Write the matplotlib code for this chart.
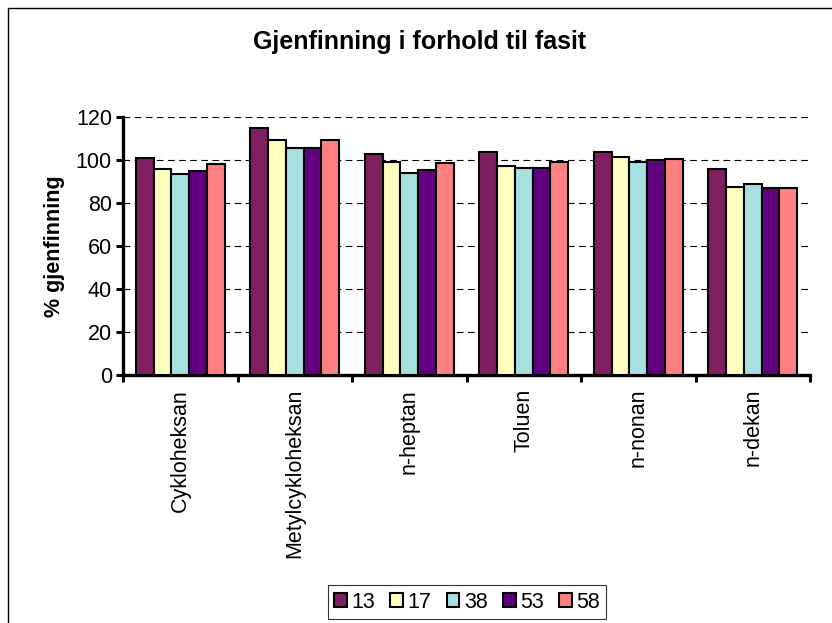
import numpy as np
import matplotlib
matplotlib.use('Agg')
import matplotlib.pyplot as plt
from matplotlib.patches import Rectangle

plt.rcParams['font.family'] = ['Liberation Sans', 'DejaVu Sans']

categories = ['Cykloheksan', 'Metylcykloheksan', 'n-heptan', 'Toluen', 'n-nonan', 'n-dekan']
series = ['13', '17', '38', '53', '58']
values = {
    '13': [100.6, 114.6, 102.8, 103.4, 103.4, 95.5],
    '17': [95.8, 109.2, 98.8, 97.1, 101.1, 87.5],
    '38': [93.2, 105.4, 93.7, 96.0, 98.9, 88.6],
    '53': [94.6, 105.4, 95.1, 96.0, 99.7, 87.0],
    '58': [97.9, 109.3, 98.6, 98.8, 100.3, 87.0],
}
colors = ['#7F1F5F', '#FFFFC0', '#A6E0E0', '#60007F', '#FF8080']

fs = 15.5
fig = plt.figure(figsize=(8.32, 6.23), dpi=100)
ax = fig.add_axes([123/832, 1-375/623, (810-123)/832, (375-116.7)/623])

x = np.arange(len(categories))
w = 0.1555
for i, s in enumerate(series):
    ax.bar(x + (i-2)*w, values[s], w, color=colors[i], edgecolor='black',
           linewidth=1.5, label=s, zorder=3)

ax.set_xlim(-0.5, len(categories)-0.5)
ax.set_ylim(0, 120)
ax.set_yticks(np.arange(0, 121, 20))
ax.yaxis.grid(True, color='black', linestyle=(0, (6, 4)), linewidth=0.8, zorder=0)

ax.set_xticks(x)
ax.set_xticklabels(categories, rotation=90, fontsize=fs)
ax.set_xticks(np.arange(-0.5, len(categories)), minor=True)
ax.tick_params(axis='x', which='major', length=0, pad=10)
ax.tick_params(axis='x', which='minor', length=5, width=2.2, direction='out')
ax.tick_params(axis='y', length=5, width=2.2, labelsize=fs, pad=3)

for side in ['top', 'right']:
    ax.spines[side].set_visible(False)
for side in ['left', 'bottom']:
    ax.spines[side].set_linewidth(2.4)

ax.set_ylabel('% gjenfinning', fontsize=fs, fontweight='bold', labelpad=8)
fig.text(420/832, 1-42/623, 'Gjenfinning i forhold til fasit', fontsize=18,
         fontweight='bold', ha='center', va='center')

leg = ax.legend(loc='center', bbox_to_anchor=(467/832, 1-602/623),
                bbox_transform=fig.transFigure, ncol=5, fontsize=fs,
                frameon=True, fancybox=False, edgecolor='black',
                handlelength=0.6, handleheight=0.6, handletextpad=0.2,
                columnspacing=0.7, borderpad=0.3)
leg.get_frame().set_linewidth(0.8)

fig.patches.append(Rectangle((8/832, -0.1), 1.2, (623-8)/623 + 0.1,
                             transform=fig.transFigure, fill=False,
                             edgecolor='black', linewidth=1.0))

fig.savefig('out.png', dpi=100)
